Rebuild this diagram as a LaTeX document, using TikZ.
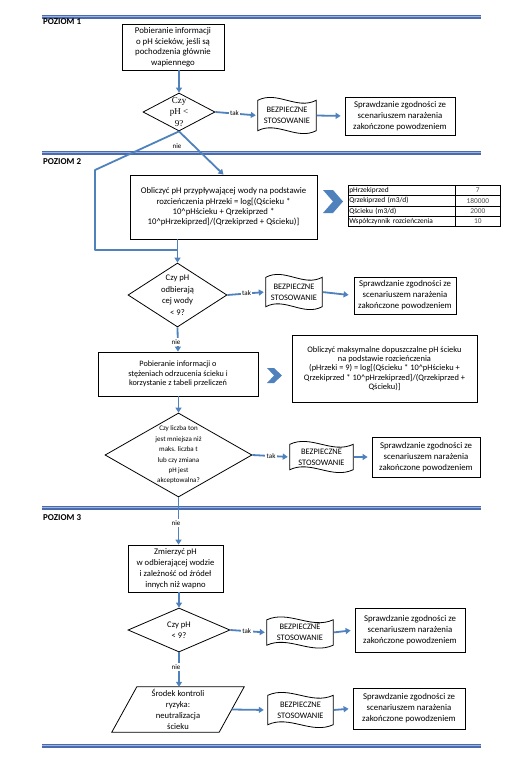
\documentclass[tikz,border=0pt]{standalone}
\usepackage{fontspec}
\setmainfont{Carlito}
\newfontfamily\serifd{Liberation Serif}
\usetikzlibrary{arrows.meta,shapes.geometric,calc}
\definecolor{ablue}{HTML}{4F81BD}
\definecolor{barblue}{HTML}{4A6BAE}
\definecolor{barlight}{HTML}{9FB5DD}
\newcommand\tapeshape[1]{%
  \draw[shapeln] (#1.north west)
   .. controls ($(#1.north west)!0.33!(#1.north east)+(0,-10)$) and ($(#1.north west)!0.67!(#1.north east)+(0,10)$) .. (#1.north east)
   -- (#1.south east)
   .. controls ($(#1.south west)!0.67!(#1.south east)+(0,10)$) and ($(#1.south west)!0.33!(#1.south east)+(0,-10)$) .. (#1.south west) -- cycle;}
\begin{document}
\begin{tikzpicture}[x=1pt,y=-1pt,
  shapeln/.style={draw=black,line width=0.8pt},
  box/.style={draw=black,line width=0.8pt,align=center,inner sep=1pt,font=\fontsize{8.8}{10.5}\selectfont},
  chk/.style={box,font=\fontsize{8.8}{11}\selectfont},
  tapebox/.style={align=center,inner sep=0pt,font=\fontsize{8.4}{11}\selectfont},
  dia/.style={diamond,draw=black,line width=0.8pt,inner sep=0pt,aspect=1},
  dtext/.style={align=center,inner sep=0pt,font=\fontsize{8.6}{11.5}\selectfont},
  arr/.style={draw=ablue,line width=1.8pt,-{Triangle[width=6pt,length=5pt]}},
  ln/.style={draw=ablue,line width=1.8pt},
  lab/.style={fill=white,inner sep=1.5pt,font=\fontsize{7}{7}\selectfont},
  lvl/.style={anchor=west,inner sep=0pt,font=\bfseries\fontsize{9}{10}\selectfont},
  cell/.style={draw=black,line width=0.7pt,minimum height=10.25pt,inner sep=1pt,font=\fontsize{7.4}{8}\selectfont},
  chev/.style={fill=ablue}
]
\useasboundingbox (0,0) rectangle (526,764);
% level bars
\foreach \yy in {17,153,508,746} {
  \fill[barblue] (42,\yy-2.3) rectangle (481,\yy+2.3);
  \fill[barlight] (42,\yy-1.0) rectangle (481,\yy+0.3);
}
\node[lvl] (lv1) at (43,22) {POZIOM 1};
\node[lvl] (lv2) at (43,162) {POZIOM 2};
\node[lvl] (lv3) at (43,518) {POZIOM 3};

% ---------- level 1
\node[box,minimum width=102pt,minimum height=46pt] (b1) at (173,47)
  {Pobieranie informacji\\o pH ścieków, jeśli są\\pochodzenia głównie\\wapiennego};
\node[dia,minimum width=72pt,minimum height=38pt] (d1) at (179,112) {};
\node[dtext,font=\serifd\fontsize{9}{11.5}\selectfont] (d1t) at (d1) {Czy\\pH <\\9?};
\node[tapebox,minimum width=58pt,minimum height=30pt] (s1) at (287,115.5) {BEZPIECZNE\\STOSOWANIE};
\tapeshape{s1}
\node[chk,minimum width=110pt,minimum height=38pt] (c1) at (400,116)
  {Sprawdzanie zgodności ze\\scenariuszem narażenia\\zakończone powodzeniem};
\draw[arr] (b1.south -| d1.north) -- (d1.north);
\draw[arr,shorten >=2pt] (d1.east) -- (s1.west) node[lab,pos=0.45] (tk1) {tak};
\draw[arr,shorten <=1pt,shorten >=4pt] (s1.east) -- (c1.west);

% ---------- level 2
\node[box,minimum width=187pt,minimum height=64pt,font=\fontsize{8.7}{10.4}\selectfont] (b2) at (223.5,207)
  {Obliczyć pH przypływającej wody na podstawie\\rozcieńczenia pHrzeki = log[(Qścieku *\\10\textasciicircum pHścieku + Qrzekiprzed *\\10\textasciicircum pHrzekiprzed]/(Qrzekiprzed + Qścieku)]};
\fill[chev] (323,190) -- (333,190) -- (343,201.5) -- (333,213) -- (323,213) -- (333,201.5) -- cycle;
% table
\node[cell,minimum width=107pt,anchor=north west,text width=105pt,align=left] (t11) at (348,185) {pHrzekiprzed};
\node[cell,minimum width=45pt,anchor=north west,text width=43pt,align=center,text=black!70] (t12) at (455,185) {7};
\node[cell,minimum width=107pt,anchor=north west,text width=105pt,align=left] (t21) at (348,195.25) {Qrzekiprzed (m3/d)};
\node[cell,minimum width=45pt,anchor=north west,text width=43pt,align=center,text=black!70] (t22) at (455,195.25) {180000};
\node[cell,minimum width=107pt,anchor=north west,text width=105pt,align=left] (t31) at (348,205.5) {Qścieku (m3/d)};
\node[cell,minimum width=45pt,anchor=north west,text width=43pt,align=center,text=black!70] (t32) at (455,205.5) {2000};
\node[cell,minimum width=107pt,anchor=north west,text width=105pt,align=left] (t41) at (348,215.75) {Współczynnik rozcieńczenia};
\node[cell,minimum width=45pt,anchor=north west,text width=43pt,align=center,text=black!70] (t42) at (455,215.75) {10};

\node[dia,minimum width=99pt,minimum height=64pt] (d2) at (177.5,295) {};
\node[dtext] (d2t) at (d2) {Czy pH\\odbierają\\cej wody\\< 9?};
\node[tapebox,minimum width=56pt,minimum height=29pt] (s2) at (294,292) {BEZPIECZNE\\STOSOWANIE};
\tapeshape{s2}
\node[chk,minimum width=102pt,minimum height=37pt] (c2) at (405,295.5)
  {Sprawdzanie zgodności ze\\scenariuszem narażenia\\zakończone powodzeniem};

\coordinate (j1) at (95,170);
\coordinate (j2) at (95,250);
\coordinate (j3) at (177.5,250);
\draw[ln,line join=round] (d1.south) -- (j1) -- (j2) -- (j3);
\draw[arr] (d1.south) -- (b2.north);
\node[lab] (n1) at (177,146) {nie};
\draw[arr] (b2.south -| d2.north) -- (d2.north);
\draw[arr,shorten >=2pt] (d2.east) -- (s2.west) node[lab,pos=0.5] (tk2) {tak};
\draw[arr,shorten <=1pt,shorten >=5pt] (s2.east) -- (c2.west);

\node[box,minimum width=160pt,minimum height=44pt,font=\fontsize{8.2}{9.5}\selectfont] (b3) at (178,374)
  {Pobieranie informacji o\\stężeniach odrzucenia ścieku i\\korzystanie z tabeli przeliczeń};
\fill[chev] (267,368) -- (274,368) -- (282,375.5) -- (274,383) -- (267,383) -- (274,375.5) -- cycle;
\node[box,minimum width=185pt,minimum height=67pt,font=\fontsize{8.4}{9.2}\selectfont] (b4) at (384.5,368.5)
  {Obliczyć maksymalne dopuszczalne pH ścieku\\na podstawie rozcieńczenia\\(pHrzeki = 9) = log[(Qścieku * 10\textasciicircum pHścieku +\\Qrzekiprzed * 10\textasciicircum pHrzekiprzed]/(Qrzekiprzed +\\Qścieku)]};
\draw[arr] (d2.south) -- (b3.north);
\node[lab] (n2) at (176,342) {nie};

\node[dia,minimum width=147pt,minimum height=84pt] (d3) at (178.5,455) {};
\node[dtext,font=\fontsize{7}{10.4}\selectfont] (d3t) at (d3) {Czy liczba ton\\jest mniejsza niż\\maks. liczba t\\lub czy zmiana\\pH jest\\akceptowalna?};
\node[tapebox,minimum width=63pt,minimum height=25pt] (s3) at (321.5,457) {BEZPIECZNE\\STOSOWANIE};
\tapeshape{s3}
\node[chk,minimum width=108pt,minimum height=40pt] (c3) at (426,457)
  {Sprawdzanie zgodności ze\\scenariuszem narażenia\\zakończone powodzeniem};
\draw[arr] (b3.south -| d3.north) -- (d3.north);
\draw[arr,shorten >=2pt] (d3.east) -- (s3.west) node[lab,pos=0.5] (tk3) {tak};
\draw[arr,shorten <=1pt,shorten >=4pt] (s3.east) -- (c3.west);

% ---------- level 3
\node[box,minimum width=95pt,minimum height=47pt,font=\fontsize{8.6}{11}\selectfont] (b5) at (175.5,568.5)
  {Zmierzyć pH\\w odbierającej wodzie\\i zależność od źródeł\\innych niż wapno};
\draw[arr] (d3.south) -- (d3.south |- b5.north);
\node[lab] (n3) at (176,523) {nie};

\node[dia,minimum width=102pt,minimum height=44pt] (d4) at (179,630) {};
\node[dtext] (d4t) at (d4) {Czy pH\\< 9?};
\node[tapebox,minimum width=66pt,minimum height=25pt] (s4) at (300,632.5) {BEZPIECZNE\\STOSOWANIE};
\tapeshape{s4}
\node[chk,minimum width=110pt,minimum height=44pt] (c4) at (410,630)
  {Sprawdzanie zgodności ze\\scenariuszem narażenia\\zakończone powodzeniem};
\draw[arr] (b5.south -| d4.north) -- (d4.north);
\draw[arr,shorten >=2pt] (d4.east) -- (s4.west) node[lab,pos=0.45] (tk4) {tak};
\draw[arr,shorten <=1pt,shorten >=4pt] (s4.east) -- (c4.west);

\node[align=center,inner sep=0pt,minimum width=107pt,minimum height=45pt,font=\fontsize{8.6}{11}\selectfont] (p1) at (178,709.5)
  {Środek kontroli\\ryzyka:\\neutralizacja\\ścieku};
\draw[shapeln] ($(p1.north west)+(12.5,0)$) -- ($(p1.north east)+(12.5,0)$) -- ($(p1.south east)+(-12.5,0)$) -- ($(p1.south west)+(-12.5,0)$) -- cycle;
\node[tapebox,minimum width=65pt,minimum height=29pt] (s5) at (300.5,710) {BEZPIECZNE\\STOSOWANIE};
\tapeshape{s5}
\node[chk,minimum width=112pt,minimum height=41pt] (c5) at (409,708.5)
  {Sprawdzanie zgodności ze\\scenariuszem narażenia\\zakończone powodzeniem};
\draw[arr] (d4.south) -- (d4.south |- p1.north);
\node[lab] (n4) at (176,667) {nie};
\draw[arr,shorten >=4pt] (p1.east) -- (s5.west);
\draw[arr,shorten <=1pt,shorten >=4pt] (s5.east) -- (c5.west);
\end{tikzpicture}
\end{document}
